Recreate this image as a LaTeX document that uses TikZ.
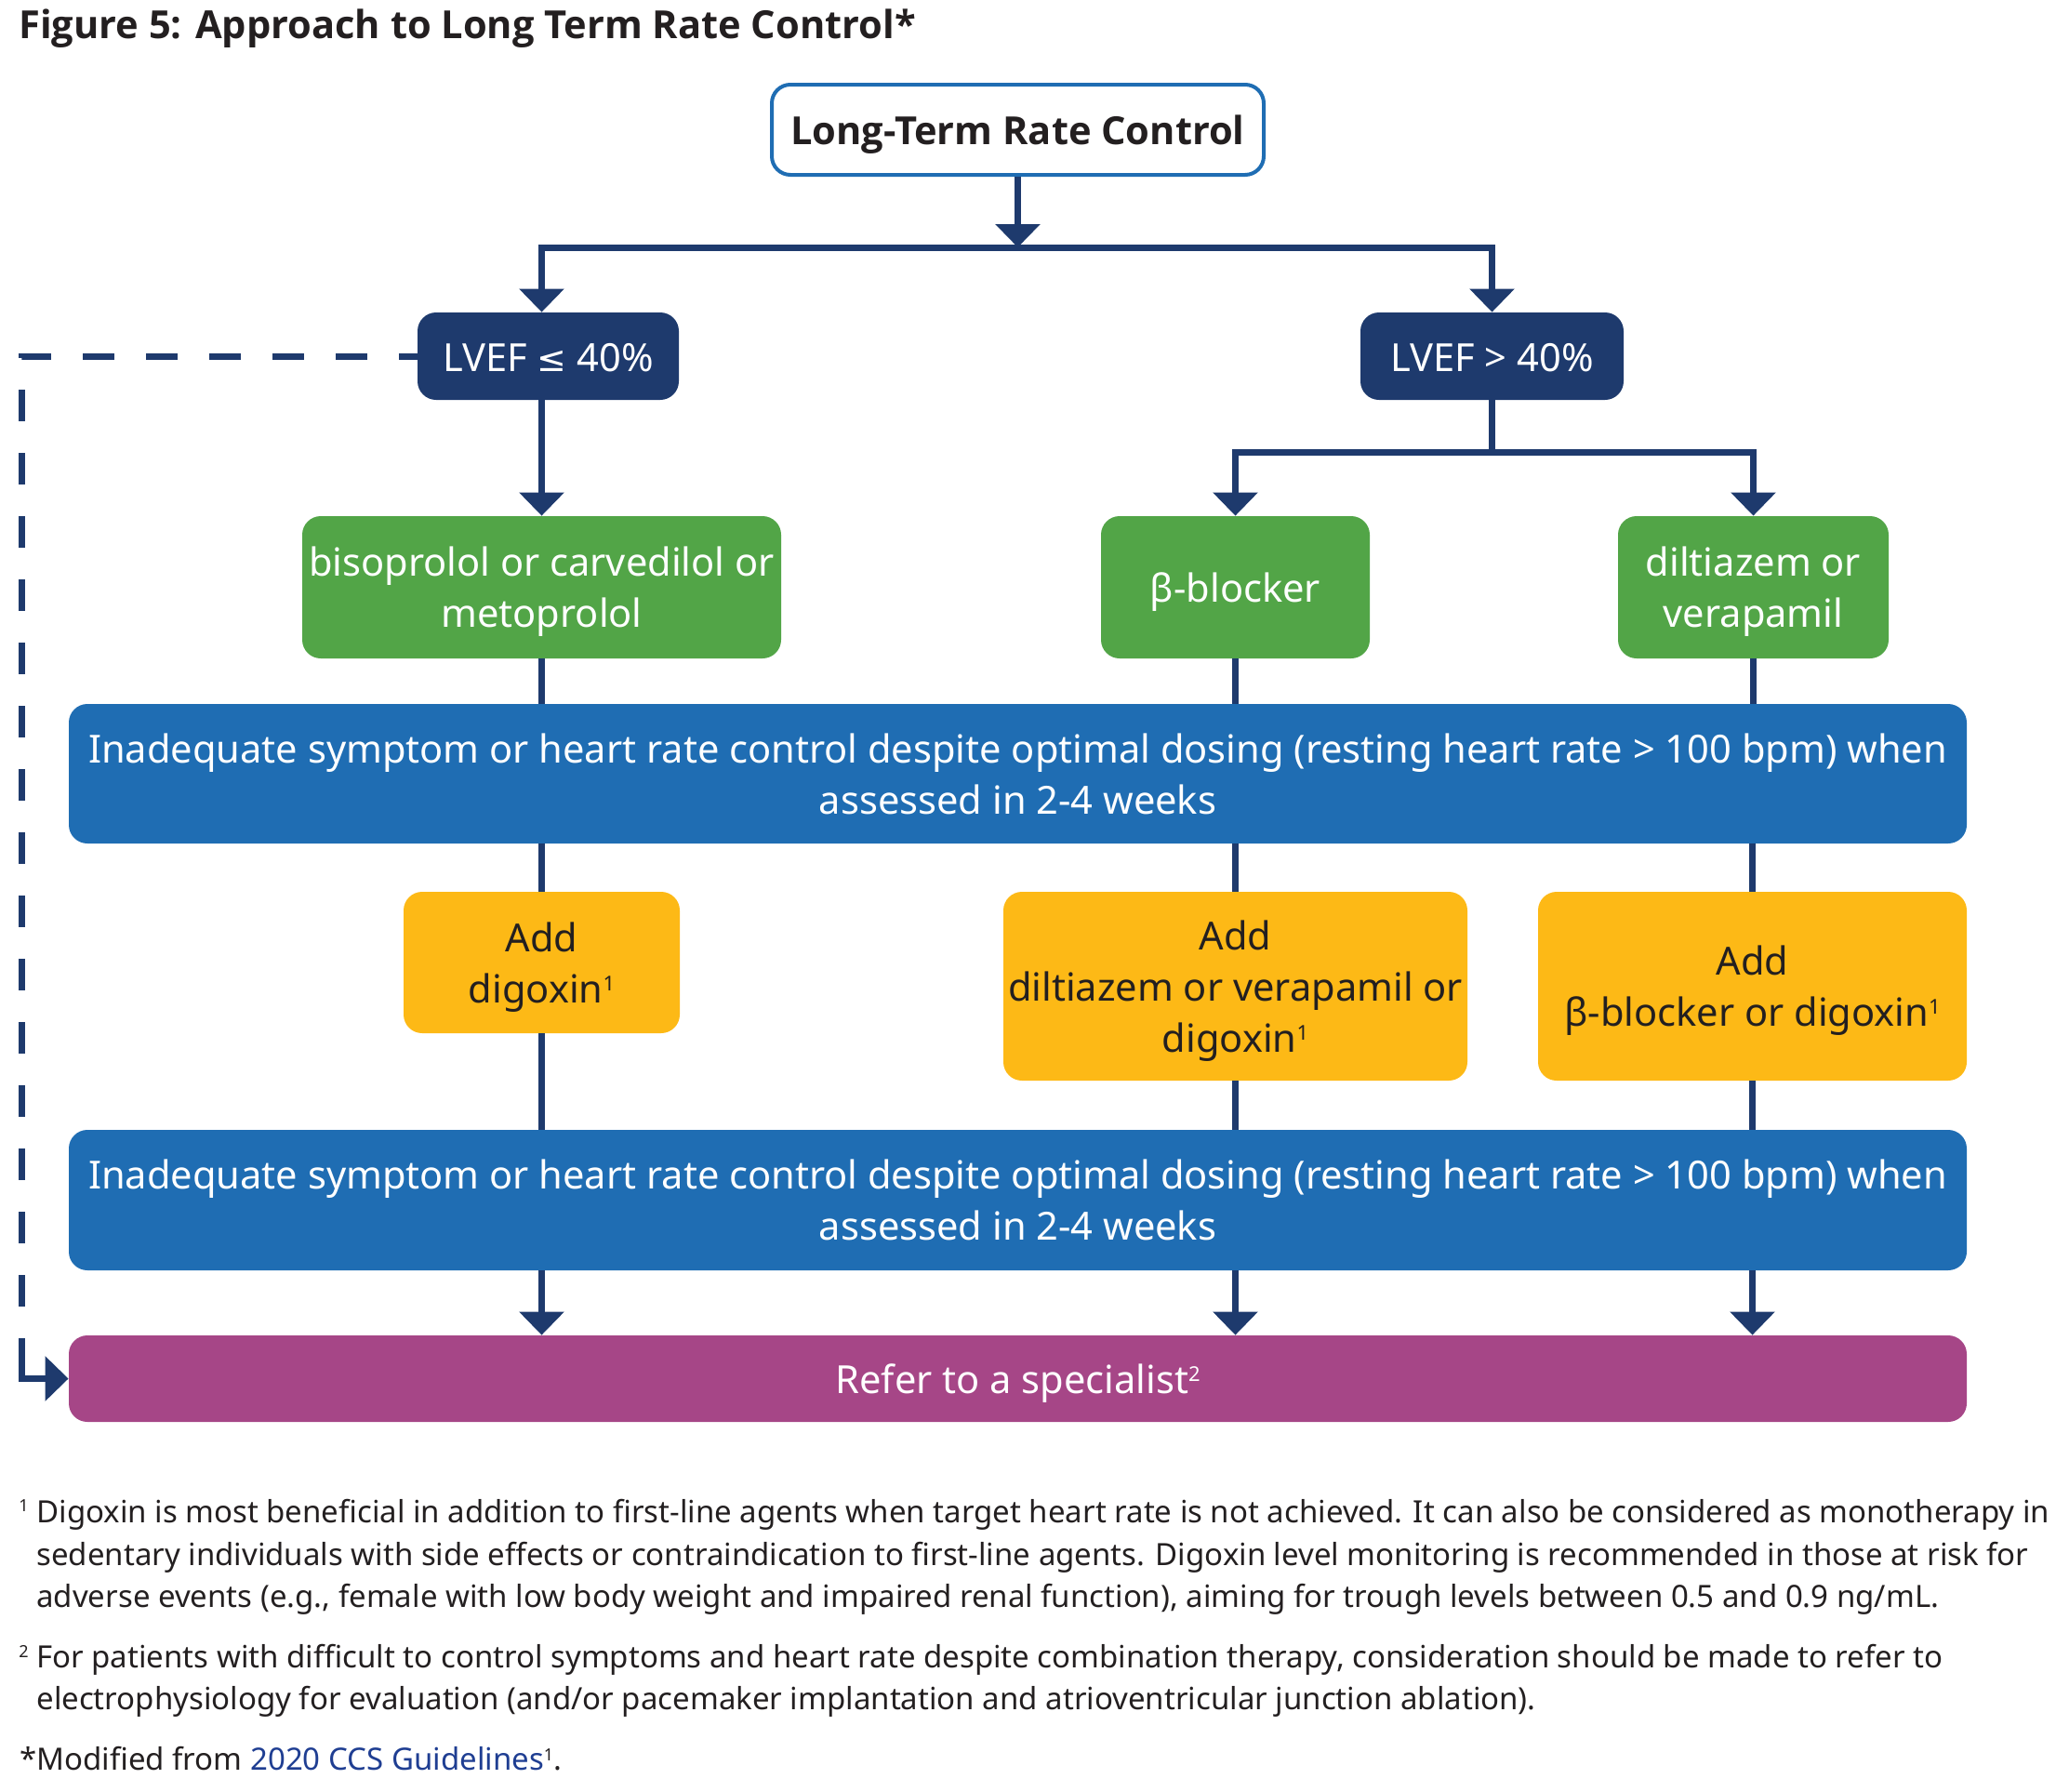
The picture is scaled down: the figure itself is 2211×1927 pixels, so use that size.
\documentclass[tikz,border=0pt]{standalone}
\usepackage{fontspec}
\setmainfont{Noto Sans}
\newfontfamily\boldsans{Open Sans}[UprightFont={* Bold}]
\newfontfamily\symf{DejaVu Sans}
\usetikzlibrary{arrows.meta}
\definecolor{navy}{HTML}{1E3A6D}
\definecolor{boxgreen}{HTML}{52A547}
\definecolor{boxblue}{HTML}{1F6DB3}
\definecolor{boxyellow}{HTML}{FDB916}
\definecolor{boxpurple}{HTML}{A64687}
\definecolor{inkdark}{HTML}{231F20}
\definecolor{linkblue}{HTML}{1F3E92}
\newcommand{\mainf}{\fontsize{20.8}{27.5}\selectfont}
\newcommand{\titlef}{\boldsans\fontsize{20.8}{24}\selectfont}
\newcommand{\fnf}{\fontsize{16.5}{22}\selectfont}
\newcommand{\fnsupf}{\fontsize{9}{10}\selectfont}
\newcommand{\supx}[1]{\raisebox{6.5pt}{\fontsize{11}{11}\selectfont #1}}
\newcommand{\fnsupx}[1]{\raisebox{5pt}{\fontsize{9}{9}\selectfont #1}}
\newcommand{\dn}[1]{\raisebox{-2.5pt}[\height][\depth]{#1}}
\newcommand{\dnl}[1]{\raisebox{-0.6pt}[\height][\depth]{#1}}
\begin{document}
\begin{tikzpicture}[x=0.5pt,y=-0.5pt,
  box/.style={rounded corners=10pt, inner sep=0pt, align=center, font=\mainf, text=white},
  navybox/.style={box, fill=navy},
  greenbox/.style={box, fill=boxgreen},
  bluebox/.style={box, fill=boxblue},
  yellowbox/.style={box, fill=boxyellow, text=inkdark},
  purplebox/.style={box, fill=boxpurple},
  conn/.style={draw=navy, line width=3.5pt},
  arr/.style={conn, -{Triangle[width=23.5pt,length=12.5pt]}},
  arrboth/.style={conn, {Triangle[width=23.5pt,length=12.5pt]}-{Triangle[width=23.5pt,length=12.5pt]}},
  fn/.style={anchor=base west, inner sep=0pt, font=\fnf, text=inkdark},
  fnsup/.style={anchor=base west, inner sep=0pt, font=\fnsupf, text=inkdark}]
\useasboundingbox (0,0) rectangle (2211,1927);

\node[anchor=base west, inner sep=0pt, font=\titlef, text=inkdark] (title) at (20,41) {Figure 5: Approach to Long Term Rate Control*};

% boxes
\node[box, fill=white, draw=boxblue, line width=2pt, text=inkdark, font=\boldsans\mainf,
  minimum width=264.5pt, minimum height=48.5pt] (top) at (1094.5,139.5) {\dn{Long-Term Rate Control}};
\node[navybox, minimum width=140.5pt, minimum height=47pt] (lvefl) at (589.5,383) {\dnl{LVEF {\symf\fontsize{19}{19}\selectfont ≤} 40\%}};
\node[navybox, minimum width=141.5pt, minimum height=47pt] (lvefh) at (1604.5,383) {\dnl{LVEF > 40\%}};

\node[greenbox, minimum width=257.5pt, minimum height=76.5pt] (bis) at (582.5,631.5) {\dn{bisoprolol or carvedilol or}\\\dn{metoprolol}};
\node[greenbox, minimum width=144.5pt, minimum height=76.5pt] (beta) at (1328.5,631.5) {\dn{β-blocker}};
\node[greenbox, minimum width=145.5pt, minimum height=76.5pt] (dil) at (1885.5,631.5) {\dn{diltiazem or}\\\dn{verapamil}};

\node[bluebox, minimum width=1020.5pt, minimum height=75pt] (blue1) at (1094.5,832) {Inadequate symptom or heart rate control despite optimal dosing (resting heart rate > 100 bpm) when\\assessed in 2-4 weeks};

\node[yellowbox, minimum width=148.5pt, minimum height=76pt] (yl) at (582.5,1035) {\dn{Add}\\\dn{digoxin\supx{1}}};
\node[yellowbox, minimum width=249.5pt, minimum height=101.5pt] (ym) at (1328.5,1060.5) {\dn{Add}\\\dn{diltiazem or verapamil or}\\\dn{digoxin\supx{1}}};
\node[yellowbox, minimum width=230.5pt, minimum height=101.5pt] (yr) at (1884.5,1060.5) {\dn{Add}\\\dn{β-blocker or digoxin\supx{1}}};

\node[bluebox, minimum width=1020.5pt, minimum height=75.5pt] (blue2) at (1094.5,1290.5) {Inadequate symptom or heart rate control despite optimal dosing (resting heart rate > 100 bpm) when\\assessed in 2-4 weeks};

\node[purplebox, minimum width=1020.5pt, minimum height=46.5pt] (refer) at (1094.5,1482.5) {\dn{Refer to a specialist\supx{2}}};

% connectors
\coordinate (j1) at (1094.5,266);
\coordinate (j2) at (1604.5,486);
\coordinate (dl) at (23,1471);
\draw[arr] (top.south) -- (j1);
\draw[arrboth] (lvefl.north -| bis.north) |- (j1) -| (lvefh.north);
\draw[conn] (lvefh.south) -- (j2);
\draw[arrboth] (beta.north) |- (j2) -| (dil.north);
\draw[arr] (lvefl.south -| bis.north) -- (bis.north);

\draw[conn] (bis.south) -- (bis.south |- blue1.north);
\draw[conn] (beta.south) -- (beta.south |- blue1.north);
\draw[conn] (dil.south) -- (dil.south |- blue1.north);

\draw[conn] (yl.north |- blue1.south) -- (yl.north);
\draw[conn] (ym.north |- blue1.south) -- (ym.north);
\draw[conn] (yr.north |- blue1.south) -- (yr.north);

\draw[conn] (yl.south) -- (yl.south |- blue2.north);
\draw[conn] (ym.south) -- (ym.south |- blue2.north);
\draw[conn] (yr.south) -- (yr.south |- blue2.north);

\draw[arr] (yl.south |- blue2.south) -- (yl.south |- refer.north);
\draw[arr] (ym.south |- blue2.south) -- (ym.south |- refer.north);
\draw[arr] (yr.south |- blue2.south) -- (yr.south |- refer.north);

\draw[conn, dash pattern=on 17pt off 17pt, dash phase=7pt] (lvefl.west) -| (dl);
\draw[conn, -{Triangle[width=23.5pt,length=12.5pt]}] (dl) |- (refer.west);

% footnotes
\node[fnsup] (s1) at (20,1625) {1};
\node[fn] (f11) at (39,1637) {Digoxin is most beneficial in addition to first-line agents when target heart rate is not achieved. It can also be considered as monotherapy in};
\node[fn] (f12) at (39,1683) {sedentary individuals with side effects or contraindication to first-line agents. Digoxin level monitoring is recommended in those at risk for};
\node[fn] (f13) at (39,1728) {adverse events (e.g., female with low body weight and impaired renal function), aiming for trough levels between 0.5 and 0.9 ng/mL.};
\node[fnsup] (s2) at (20,1782) {2};
\node[fn] (f21) at (39,1793) {For patients with difficult to control symptoms and heart rate despite combination therapy, consideration should be made to refer to};
\node[fn] (f22) at (39,1838) {electrophysiology for evaluation (and/or pacemaker implantation and atrioventricular junction ablation).};
\node[fn] (f3) at (21,1903) {*Modified from \textcolor{linkblue}{2020 CCS Guidelines}\fnsupx{1}.};
\end{tikzpicture}
\end{document}
